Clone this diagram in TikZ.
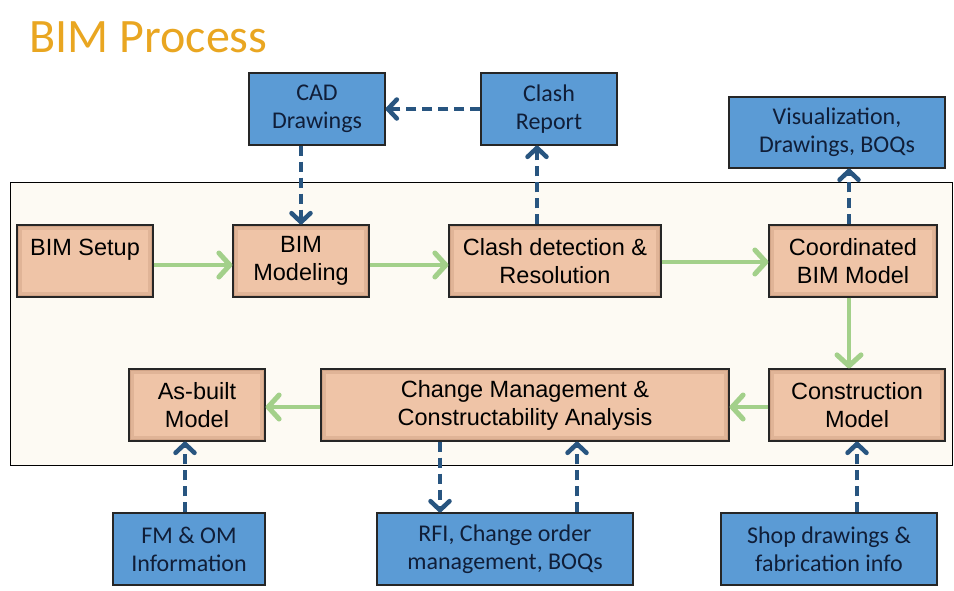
\documentclass[tikz,border=0pt]{standalone}
\usepackage{fontspec}
\setmainfont{Carlito}
\newfontfamily\arialfont{Liberation Sans}
\usetikzlibrary{arrows.meta}

\definecolor{titleorange}{RGB}{233,166,33}
\definecolor{panelfill}{RGB}{253,250,243}
\definecolor{beige}{RGB}{239,196,167}
\definecolor{beigeedge}{RGB}{140,90,60}
\definecolor{infoblue}{RGB}{91,155,213}
\definecolor{infotext}{RGB}{16,30,56}
\definecolor{flowgreen}{RGB}{163,208,138}
\definecolor{feedblue}{RGB}{40,85,128}

\tikzset{
  procbox/.style={draw=black!85, line width=1.2pt, fill=beige, inner sep=0pt, align=center,
    font=\arialfont\fontsize{23.5}{28}\selectfont,
    path picture={
      \draw[beigeedge, opacity=0.15, line width=10pt] (path picture bounding box.south west) rectangle (path picture bounding box.north east);
      \draw[beigeedge, opacity=0.18, line width=4pt] (path picture bounding box.south west) rectangle (path picture bounding box.north east);
    }},
  infobox/.style={draw=black!85, line width=1.2pt, fill=infoblue, text=infotext, inner sep=0pt, align=center,
    font=\fontsize{24}{28}\selectfont},
  flow/.style={-{Straight Barb[length=11pt, width=24pt, line width=5pt, round]}, draw=flowgreen, line width=4pt},
  feed/.style={-{Straight Barb[length=9pt, width=19pt, line width=4.5pt, round]}, draw=feedblue, line width=4pt, dash pattern=on 10pt off 6pt}
}

\begin{document}
\begin{tikzpicture}[x=1pt, y=-1pt]
	\useasboundingbox (0,0) rectangle (954,590);
	\node[anchor=west, text=titleorange, font=\fontsize{48}{52}\selectfont] (title) at (26,37) {BIM Process};

	% process panel
	\draw[fill=panelfill, draw=black, line width=0.8pt] (10,182) rectangle (952,465);

	% top row
	\node[infobox, minimum width=136pt, minimum height=72pt] (cad) at (317,109) {CAD\\Drawings};
	\node[infobox, minimum width=136pt, minimum height=72pt] (report) at (549,109) {Clash\\Report};
	\node[infobox, minimum width=216pt, minimum height=71pt] (visual) at (837,132.5) {Visualization,\\Drawings, BOQs};

	% process steps
	\node[procbox, minimum width=136pt, minimum height=72pt] (setup) at (85,261) {BIM Setup\\~};
	\node[procbox, minimum width=136pt, minimum height=72pt] (modeling) at (301,261) {BIM\\Modeling};
	\node[procbox, minimum width=212pt, minimum height=72pt] (detect) at (555,261) {Clash detection \&\\Resolution};
	\node[procbox, minimum width=168pt, minimum height=72pt] (coord) at (853,261) {Coordinated\\BIM Model};
	\node[procbox, minimum width=176pt, minimum height=72pt] (construct) at (857,405) {Construction\\Model};
	\node[procbox, minimum width=408pt, minimum height=72pt] (change) at (525,405) {Change Management \&\\Constructability Analysis};
	\node[procbox, minimum width=136pt, minimum height=72pt] (asbuilt) at (197,405) {As-built\\Model};

	% bottom row
	\node[infobox, minimum width=152pt, minimum height=72pt] (fm) at (189,549) {FM \& OM\\Information};
	\node[infobox, minimum width=256pt, minimum height=72pt] (rfi) at (505,549) {RFI, Change order\\management, BOQs};
	\node[infobox, minimum width=216pt, minimum height=72pt] (shop) at (829,549) {Shop drawings \&\\fabrication info};

	% main flow
	\draw[flow] ([yshift=-4pt]setup.east) -- ([yshift=-4pt]setup.east -| modeling.west);
	\draw[flow] ([yshift=-4pt]modeling.east) -- ([yshift=-4pt]modeling.east -| detect.west);
	\draw[flow] ([yshift=-1pt]detect.east) -- ([yshift=-1pt]detect.east -| coord.west);
	\draw[flow] ([xshift=-4pt]coord.south) -- ([xshift=-4pt]coord.south |- construct.north);
	\draw[flow] ([yshift=-2pt]construct.west) -- ([yshift=-2pt]construct.west -| change.east);
	\draw[flow] ([yshift=-2pt]change.west) -- ([yshift=-2pt]change.west -| asbuilt.east);

	% information exchange
	\draw[feed] (report.west) -- (cad.east);
	\draw[feed] (cad.south -| modeling.north) -- (modeling.north);
	\draw[feed] ([xshift=-18pt]detect.north) -- ([xshift=-18pt]detect.north |- report.south);
	\draw[feed] ([xshift=-4pt]coord.north) -- ([xshift=-4pt]coord.north |- visual.south);
	\draw[feed] ([xshift=-4pt]fm.north) -- ([xshift=-4pt]fm.north |- asbuilt.south);
	\draw[feed] ([xshift=-65pt]rfi.north |- change.south) -- ([xshift=-65pt]rfi.north);
	\draw[feed] ([xshift=72pt]rfi.north) -- ([xshift=72pt]rfi.north |- change.south);
	\draw[feed] (shop.north -| construct.south) -- (construct.south);
\end{tikzpicture}
\end{document}
